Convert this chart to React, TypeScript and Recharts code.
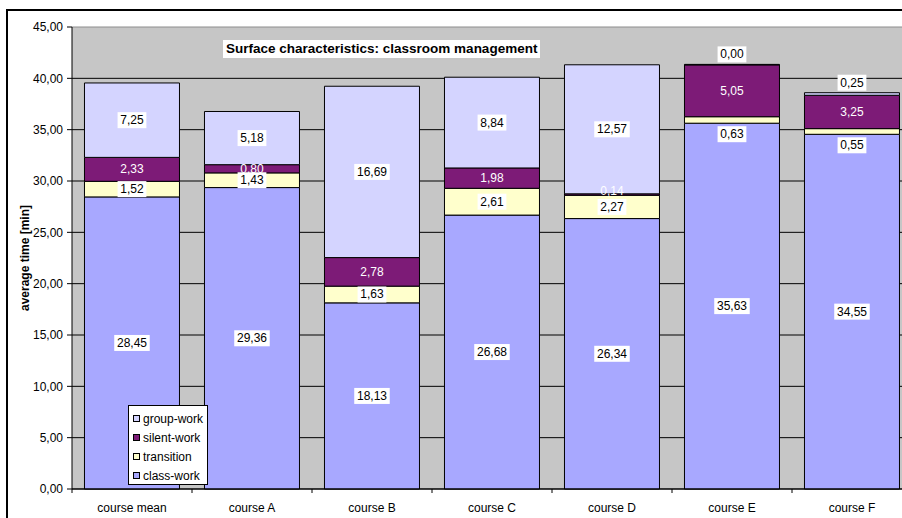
import { BarChart, Bar, XAxis, YAxis, CartesianGrid, Legend, LabelList } from "recharts";

const courses = ["course mean", "course A", "course B", "course C", "course D", "course E", "course F"];
const classWork = [28.45, 29.36, 18.13, 26.68, 26.34, 35.63, 34.55];
const transition = [1.52, 1.43, 1.63, 2.61, 2.27, 0.63, 0.55];
const silentWork = [2.33, 0.8, 2.78, 1.98, 0.14, 5.05, 3.25];
const groupWork = [7.25, 5.18, 16.69, 8.84, 12.57, 0.0, 0.25];
const yTicks = [0, 5, 10, 15, 20, 25, 30, 35, 40, 45];

const FONT = "'Liberation Sans', Arial, sans-serif";
const CHART_W = 920;
const CHART_H = 518;
const MARGIN = { top: 27, right: 8, bottom: 0, left: 0 };
const Y_AXIS_W = 72;
const X_AXIS_H = 29;
const band = (CHART_W - MARGIN.left - MARGIN.right - Y_AXIS_W) / courses.length;

const colors = {
  classWork: "#A8A8FF",
  transition: "#FFFFCC",
  silentWork: "#7D1B77",
  groupWork: "#D4D4FF",
};

const data = courses.map((course, i) => ({
  course,
  classWork: classWork[i],
  transition: transition[i],
  silentWork: silentWork[i],
  groupWork: groupWork[i],
}));

const fmt = (v: number) => v.toFixed(2).replace(".", ",");

type Kind = "box" | "white";

// excel-ish data label: centred in the segment, small segments pushed out
const segLabel = (values: number[], kind: Kind, push?: "above" | "below") => (props: any) => {
  const vb = props.viewBox || {};
  const x = Number(props.x ?? vb.x);
  const y = Number(props.y ?? vb.y);
  const w = Number(props.width ?? vb.width);
  const h = Math.abs(Number(props.height ?? vb.height));
  let v = Number(props.value);
  if (Number.isNaN(v)) v = values[props.index];
  if (v === undefined || Number.isNaN(x)) return null;
  const txt = fmt(v);
  const cx = x + w / 2;
  let cy = y + h / 2;
  if (push === "below" && h < 8) cy = y + h + 11;
  if (push === "above" && h < 8) cy = y - 10;
  if (kind === "white") {
    if (h < 4) cy = y - 3;
    return (
      <text x={cx} y={cy} fill="#fff" fontSize={12} fontFamily={FONT} textAnchor="middle" dominantBaseline="central">
        {txt}
      </text>
    );
  }
  const bw = txt.length * 6.7 + 2;
  return (
    <g>
      <rect x={cx - bw / 2} y={cy - 8} width={bw} height={16} fill="#fff" />
      <text x={cx} y={cy} fill="#000" fontSize={12} fontFamily={FONT} textAnchor="middle" dominantBaseline="central">
        {txt}
      </text>
    </g>
  );
};

const CourseTick = (props: any) => {
  const { x, y, payload } = props;
  const left = x - band / 2;
  return (
    <g>
      <line x1={left} y1={y} x2={left} y2={y + 4} stroke="#000" />
      <text x={x} y={y + 23} textAnchor="middle" fontSize={12} fontFamily={FONT} fill="#000">
        {payload.value}
      </text>
    </g>
  );
};

// gridlines black, the top edge is the grey plot-area border
const GridLine = (props: any) => {
  const { x1, y1, x2, y2 } = props;
  const top = Math.abs(y1 - MARGIN.top) < 1;
  return <line x1={x1} y1={y1} x2={x2} y2={y2} stroke={top ? "#8c8c8c" : "#000"} strokeWidth={1} />;
};

const YLabel = (props: any) => {
  const vb = props.viewBox || {};
  const cx = vb.x + 25;
  const cy = vb.y + vb.height / 2;
  return (
    <text
      x={cx}
      y={cy}
      transform={`rotate(-90 ${cx} ${cy})`}
      textAnchor="middle"
      dominantBaseline="central"
      fontSize={12}
      fontWeight="bold"
      fontFamily={FONT}
      fill="#000"
    >
      average time [min]
    </text>
  );
};

const legendItems = [
  { name: "group-work", color: colors.groupWork },
  { name: "silent-work", color: colors.silentWork },
  { name: "transition", color: colors.transition },
  { name: "class-work", color: colors.classWork },
];

const LegendBox = () => (
  <div
    style={{
      width: 78,
      height: 75,
      border: "1px solid #000",
      background: "#fff",
      fontFamily: FONT,
      fontSize: 12,
      boxSizing: "content-box",
      paddingTop: 3,
    }}
  >
    {legendItems.map((it) => (
      <div key={it.name} style={{ display: "flex", alignItems: "center", height: 19, paddingLeft: 4, whiteSpace: "nowrap" }}>
        <span
          style={{
            display: "inline-block",
            width: 5,
            height: 5,
            border: "1px solid #000",
            background: it.color,
            marginRight: 3,
          }}
        />
        <span style={{ color: "#000" }}>{it.name}</span>
      </div>
    ))}
  </div>
);

export default function App() {
  return (
    <div
      style={{
        position: "fixed",
        left: 0,
        top: 0,
        width: 902,
        height: 518,
        overflow: "hidden",
        background: "#fff",
      }}
    >
      <div
        style={{
          position: "absolute",
          left: 6,
          top: 9,
          width: 1000,
          height: 1000,
          borderLeft: "2px solid #000",
          borderTop: "2px solid #000",
        }}
      />
      <div style={{ position: "absolute", left: 0, top: 0 }}>
        <BarChart width={CHART_W} height={CHART_H} data={data} margin={MARGIN} barCategoryGap="10.4%">
          <CartesianGrid vertical={false} horizontal={<GridLine />} stroke="#000" fill="#C6C6C6" fillOpacity={1} />
          <XAxis
            dataKey="course"
            height={X_AXIS_H}
            tickLine={false}
            tickSize={0}
            tickMargin={0}
            axisLine={{ stroke: "#000" }}
            interval={0}
            tick={<CourseTick />}
          />
          <YAxis
            width={Y_AXIS_W}
            domain={[0, 45]}
            ticks={yTicks}
            interval={0}
            tickFormatter={fmt}
            tickSize={5}
            tickMargin={4}
            axisLine={{ stroke: "#000" }}
            tickLine={{ stroke: "#000" }}
            tick={{ fill: "#000", fontSize: 12, fontFamily: FONT }}
            label={<YLabel />}
          />
          <Legend
            layout="vertical"
            align="center"
            verticalAlign="middle"
            wrapperStyle={{ left: 128, top: 405, width: 80, height: 80 }}
            content={<LegendBox />}
          />
          <Bar dataKey="classWork" name="class-work" stackId="a" fill={colors.classWork} stroke="#000" isAnimationActive={false}>
            <LabelList dataKey="classWork" content={segLabel(classWork, "box")} />
          </Bar>
          <Bar dataKey="transition" name="transition" stackId="a" fill={colors.transition} stroke="#000" isAnimationActive={false}>
            <LabelList dataKey="transition" content={segLabel(transition, "box", "below")} />
          </Bar>
          <Bar dataKey="silentWork" name="silent-work" stackId="a" fill={colors.silentWork} stroke="#000" isAnimationActive={false}>
            <LabelList dataKey="silentWork" content={segLabel(silentWork, "white")} />
          </Bar>
          <Bar
            dataKey="groupWork"
            name="group-work"
            stackId="a"
            fill={colors.groupWork}
            stroke="#000"
            minPointSize={0.5}
            isAnimationActive={false}
          >
            <LabelList dataKey="groupWork" content={segLabel(groupWork, "box", "above")} />
          </Bar>
        </BarChart>
      </div>
      <div
        style={{
          position: "absolute",
          left: 223,
          top: 40,
          padding: "1px 3px",
          background: "#fff",
          fontFamily: FONT,
          fontSize: 13.5,
          fontWeight: "bold",
          color: "#000",
          lineHeight: "16px",
        }}
      >
        Surface characteristics: classroom management
      </div>
    </div>
  );
}
